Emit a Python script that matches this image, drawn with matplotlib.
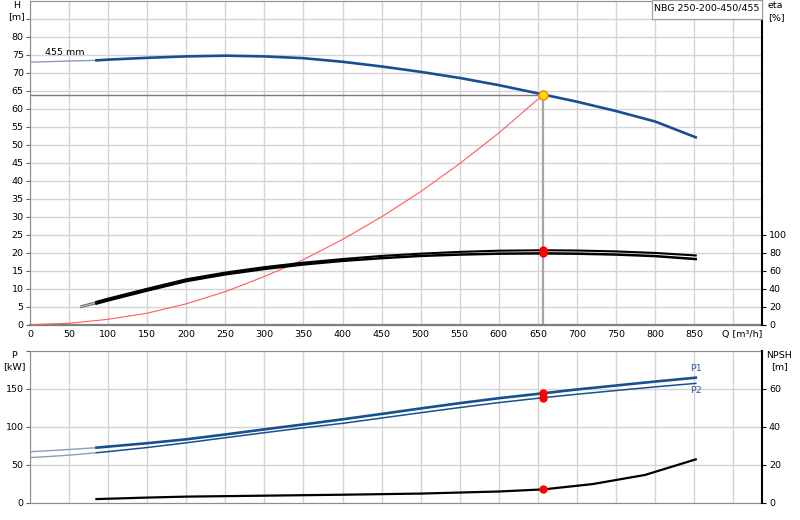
import matplotlib
matplotlib.use('Agg')
import matplotlib.pyplot as plt
from matplotlib.patches import Rectangle

# ---------------- data ----------------
q_head = [0, 50, 85, 100, 150, 200, 250, 300, 350, 400, 450, 500, 550, 600, 657, 700, 750, 800, 852]
head = [73.0, 73.3, 73.5, 73.7, 74.2, 74.6, 74.8, 74.6, 74.1, 73.1, 71.8, 70.3, 68.6, 66.6, 64.0, 62.0, 59.4, 56.5, 52.1]

q_sys = [0, 50, 100, 150, 200, 250, 300, 350, 400, 450, 500, 550, 600, 657]
h_sys = [0, 0.4, 1.5, 3.2, 5.8, 9.2, 13.4, 18.1, 23.7, 30.0, 37.0, 44.8, 53.3, 64.0]

q_eta = [65, 85, 100, 150, 200, 250, 300, 350, 400, 450, 500, 550, 600, 657, 700, 750, 800, 852]
eta_1 = [21.0, 25.5, 29.0, 40.0, 50.5, 58.0, 64.0, 69.0, 73.0, 76.5, 79.0, 81.0, 82.3, 82.8, 82.5, 81.5, 79.8, 77.0]
eta_2 = [19.0, 23.5, 27.0, 38.0, 48.5, 56.0, 62.0, 67.0, 71.0, 74.0, 76.5, 78.0, 79.0, 79.3, 79.0, 78.0, 76.3, 73.0]

q_pow = [0, 50, 85, 100, 150, 200, 250, 300, 350, 400, 450, 500, 550, 600, 657, 700, 750, 800, 852]
p1 = [67.0, 70.0, 72.4, 73.8, 78.3, 83.4, 89.8, 96.5, 103.0, 109.7, 116.8, 124.0, 131.0, 137.5, 144.0, 149.0, 154.2, 159.4, 164.5]
p2 = [59.3, 62.5, 65.8, 67.2, 72.6, 78.8, 85.5, 92.1, 98.5, 104.4, 111.4, 118.4, 125.2, 131.7, 138.2, 142.7, 147.6, 152.4, 157.0]

q_npsh = [85, 150, 200, 300, 400, 500, 600, 657, 720, 787, 852]
npsh = [1.9, 2.7, 3.2, 3.7, 4.2, 4.8, 5.9, 7.0, 9.8, 14.6, 22.8]

q_op = 657
h_op = 64.0
eta_op = [82.8, 79.3]
p_op = [144.0, 138.2]
npsh_op = 7.0

q_ticks = list(range(0, 901, 50))
h_ticks = list(range(0, 90, 5))
eta_ticks = list(range(0, 101, 20))
p_ticks = [0, 50, 100, 150, 200]
npsh_ticks = [0, 20, 40, 60]

title_text = "NBG 250-200-450/455"
curve_label = "455 mm"

# ---------------- layout ----------------
W, H = 800, 520
fig = plt.figure(figsize=(8, 5.2), dpi=100)
plt.rcParams['font.family'] = ['DejaVu Sans']
FS = 6.8

def fx(px):
    return px / W

def fy(py):
    return 1 - py / H

L, R = 30, 762
ax1 = fig.add_axes([fx(L), fy(324.7), fx(R) - fx(L), fy(1) - fy(324.7)])
ax2 = fig.add_axes([fx(L), fy(502.7), fx(R) - fx(L), 152 / H])

xmax = 936.8
blue = '#17508f'
light_blue = '#8a9cbc'
gridc = '#d4d4d4'

for ax in (ax1, ax2):
    ax.set_xlim(0, xmax)
    ax.set_axisbelow(True)
    ax.grid(True, color=gridc, lw=1)
    for s in ('left', 'top', 'bottom'):
        ax.spines[s].set_color('#8c8c8c')
    ax.spines['right'].set_visible(False)
    ax.tick_params(axis='y', length=3, width=0.8, color='#606060', pad=1.5, labelsize=FS)

# ---- top axes ----
ax1.set_ylim(0, 90)
ax1.set_xticks(q_ticks)
ax1.set_xticklabels([str(t) if t < 900 else '' for t in q_ticks])
ax1.set_yticks(h_ticks)
ax1.set_yticklabels([str(t) if t <= 80 else '' for t in h_ticks])
ax1.tick_params(axis='x', length=0, pad=4, labelsize=FS)
ax1.spines['bottom'].set_linewidth(1.6)
ax1.spines['bottom'].set_color('#7f7f7f')

ax1t = ax1.twinx()
ax1t.set_ylim(0, 360)
ax1t.set_yticks(eta_ticks)
ax1t.tick_params(axis='y', length=3, width=0.8, color='#000000', pad=2, labelsize=FS)
for s in ('left', 'top', 'bottom'):
    ax1t.spines[s].set_visible(False)
ax1t.spines['right'].set_color('black')
ax1t.spines['right'].set_linewidth(1.5)

# operating point guide lines
ax1.plot([0, q_op], [h_op - 0.2, h_op - 0.2], color='#7a7a7a', lw=1, zorder=2)
ax1.plot([q_op, q_op], [0, h_op], color='#a6a6a6', lw=1.6, zorder=2)

# system curve
ax1.plot(q_sys, h_sys, color='#ff5a5a', lw=0.8, zorder=3)

# head curve
ax1.plot(q_head[:3], head[:3], color=light_blue, lw=1.0, zorder=4)
ax1.plot(q_head[2:], head[2:], color=blue, lw=1.9, zorder=4)
ax1.text(45, 75.8, curve_label, fontsize=FS, ha='center', va='center', color='black')

# efficiency curves
ax1t.plot(q_eta[:2], eta_1[:2], color='#707070', lw=0.9)
ax1t.plot(q_eta[:2], eta_2[:2], color='#707070', lw=0.9)
ax1t.plot(q_eta[1:], eta_1[1:], color='black', lw=1.5)
ax1t.plot(q_eta[1:], eta_2[1:], color='black', lw=1.8)
ax1t.plot([q_op, q_op], eta_op, 'o', color='#ff0000', ms=5, mec='#ff0000', zorder=6)

# operating point on head curve
ax1.plot([q_op], [h_op], 'o', ms=6.5, mfc='#ffe000', mec='#ff8000', mew=1.0, zorder=6)

# Q axis label
fig.text(fx(721.7), fy(334.5), "Q [m³/h]", fontsize=FS, ha='left', va='center')

# title box
fig.patches.append(Rectangle((fx(652), fy(19)), fx(762) - fx(652), fy(0) - fy(19),
                             transform=fig.transFigure, fc='white', ec='#a0a0a0', lw=0.9,
                             zorder=10))
fig.text(fx(707), fy(8), title_text, fontsize=FS, ha='center', va='center', zorder=11)

# ---- bottom axes ----
ax2.set_ylim(0, 200)
ax2.set_xticks(q_ticks)
ax2.set_xticklabels([])
ax2.tick_params(axis='x', length=0)
ax2.set_yticks(p_ticks)
ax2.set_yticklabels([str(t) if t < 200 else '' for t in p_ticks])

ax2t = ax2.twinx()
ax2t.set_ylim(0, 80)
ax2t.set_yticks(npsh_ticks)
ax2t.tick_params(axis='y', length=3, width=0.8, color='#000000', pad=2, labelsize=FS)
for s in ('left', 'top', 'bottom'):
    ax2t.spines[s].set_visible(False)
ax2t.spines['right'].set_color('black')
ax2t.spines['right'].set_linewidth(1.5)

ax2.plot(q_pow[:3], p1[:3], color=light_blue, lw=1.0)
ax2.plot(q_pow[:3], p2[:3], color=light_blue, lw=1.0)
ax2.plot(q_pow[2:], p1[2:], color=blue, lw=1.9)
ax2.plot(q_pow[2:], p2[2:], color=blue, lw=1.1)
ax2.plot([q_op, q_op], p_op, 'o', color='#ff0000', ms=5, zorder=6)
ax2.text(852, 176, "P1", fontsize=FS, color='#2c5a96', ha='center', va='center')
ax2.text(852, 148, "P2", fontsize=FS, color='#2c5a96', ha='center', va='center')

ax2t.plot(q_npsh, npsh, color='black', lw=1.6)
ax2t.plot([q_op], [npsh_op], 'o', color='#ff0000', ms=5, zorder=6)

# axis unit labels
fig.text(fx(17), fy(5), "H", fontsize=FS, ha='center', va='center')
fig.text(fx(17), fy(17), "[m]", fontsize=FS, ha='center', va='center')
fig.text(fx(768), fy(5.5), "eta", fontsize=FS, ha='left', va='center')
fig.text(fx(768), fy(17.5), "[%]", fontsize=FS, ha='left', va='center')
fig.text(fx(14), fy(355), "P", fontsize=FS, ha='center', va='center')
fig.text(fx(14), fy(367), "[kW]", fontsize=FS, ha='center', va='center')
fig.text(fx(766), fy(355.5), "NPSH", fontsize=FS, ha='left', va='center')
fig.text(fx(780), fy(367), "[m]", fontsize=FS, ha='center', va='center')

fig.savefig('out.png', dpi=100, facecolor='white')
